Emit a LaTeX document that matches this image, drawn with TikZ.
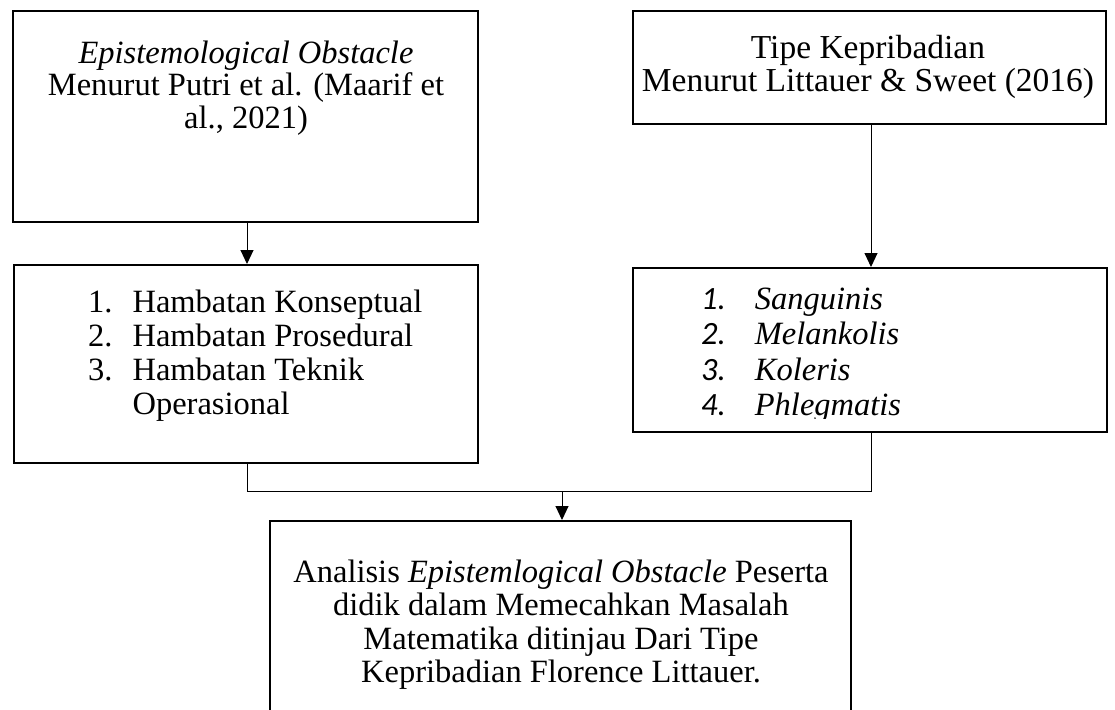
\documentclass[tikz,border=0pt]{standalone}
\usepackage{fontspec}
\setmainfont{Liberation Serif}
\newfontfamily\calibri{Carlito}
\usetikzlibrary{arrows.meta,fit}
\begin{document}
\begin{tikzpicture}[x=1pt,y=-1pt,
  box/.style={draw, line width=2pt, inner sep=0pt},
  conn/.style={line width=1pt},
  arr/.style={line width=1pt, -{Triangle[width=13pt,length=14pt]}},
  txt/.style={inner sep=0pt, font=\fontsize{32.5}{34}\selectfont}]
\useasboundingbox (0,0) rectangle (1115,709);
\clip (0,0) rectangle (1115,709);
\fill[white] (0,0) rectangle (1115,709);
% boxes
\node[box, fit={(13,11) (478,222)}] (A) {};
\node[box, fit={(14,265) (478,463)}] (B) {};
\node[box, fit={(633,11) (1106,124)}] (C) {};
\node[box, fit={(633,268) (1107,432)}] (D) {};
\node[box, fit={(270,521) (851,740)}] (E) {};
% texts
\node[txt, font=\fontsize{32.5}{32.5}\selectfont, align=center] (tA) at (246,88) {\textit{Epistemological Obstacle}\\Menurut Putri et al. (Maarif et\\al., 2021)};
\node[txt, font=\fontsize{33.5}{32.5}\selectfont, align=center] (tC) at (868,67) {Tipe Kepribadian\\Menurut Littauer \& Sweet (2016)};
\node[txt, anchor=north west] (tB) at (88,288) {\begin{tabular}{@{}l@{\hspace{20pt}}l@{}}1. & Hambatan Konseptual\\2. & Hambatan Prosedural\\3. & Hambatan Teknik\\ & Operasional\end{tabular}};
\begin{scope}
\clip (633,268) rectangle (1107,418);
\node[txt, font=\fontsize{32.5}{35.5}\selectfont, anchor=north west] (tD) at (701,284) {\begin{tabular}{@{}l@{\hspace{29pt}}l@{}}{\calibri\itshape 1.} & \textit{Sanguinis}\\{\calibri\itshape 2.} & \textit{Melankolis}\\{\calibri\itshape 3.} & \textit{Koleris}\\{\calibri\itshape 4.} & \textit{Phlegmatis}\end{tabular}};
\end{scope}
\node[txt, font=\fontsize{32.5}{33.5}\selectfont, anchor=north] (tE) at (561,558.5) {\begin{tabular}{@{}c@{}}Analisis \textit{Epistemlogical Obstacle} Peserta\\didik dalam Memecahkan Masalah\\Matematika ditinjau Dari Tipe\\Kepribadian Florence Littauer.\end{tabular}};
% connectors
\coordinate (xa) at (247,0);
\coordinate (xc) at (871,0);
\coordinate (m) at (562,491);
\draw[arr] (A.south -| xa) -- (B.north -| xa);
\draw[arr] (C.south -| xc) -- (D.north -| xc);
\draw[conn] (B.south -| xa) |- (m);
\draw[conn] (D.south -| xc) |- (m);
\draw[arr] (m) -- (E.north -| m);
\end{tikzpicture}
\end{document}
